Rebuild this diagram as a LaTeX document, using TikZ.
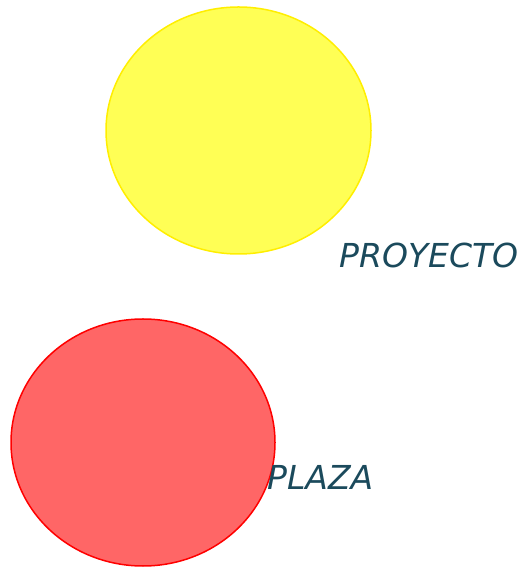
\documentclass[tikz,border=0pt]{standalone}
\usepackage{fontspec}
\setmainfont{DejaVu Sans}
\definecolor{lbl}{HTML}{1B4A5C}
\definecolor{yfill}{HTML}{FFFF55}
\definecolor{ydraw}{HTML}{FFEE00}
\definecolor{rfill}{HTML}{FF6666}
\definecolor{rdraw}{HTML}{FF0000}
\begin{document}
\begin{tikzpicture}[x=1pt,y=1pt,
  lab/.style={anchor=base west, inner sep=0pt, text=lbl, font=\itshape\fontsize{33}{33}\selectfont}]
\useasboundingbox (0,0) rectangle (524,567);
\draw[fill=yfill, draw=ydraw, line width=1.5pt] (238.5,436.5) ellipse [x radius=132.5, y radius=123.5];
\draw[fill=rfill, draw=rdraw, line width=1.5pt] (143,124.5) ellipse [x radius=132, y radius=123.5];
\node[lab] (proyecto) at (339,299) {PROYECTO};
\node[lab] (plaza) at (267,77) {PLAZA};
\end{tikzpicture}
\end{document}
